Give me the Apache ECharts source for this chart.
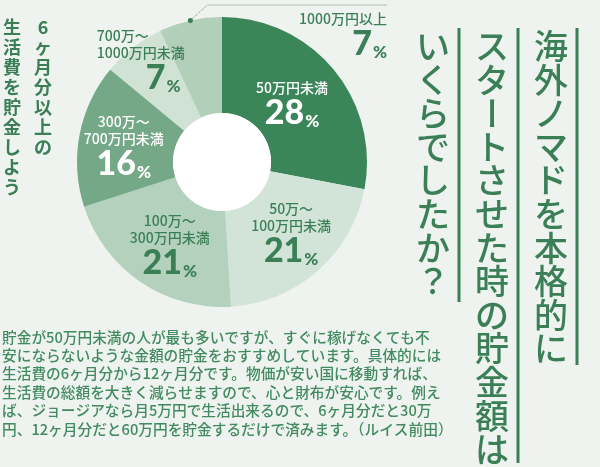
<!DOCTYPE html>
<html><head><meta charset="utf-8">
<script src="https://cdn.jsdelivr.net/npm/echarts@6/dist/echarts.min.js"></script>
<style>html,body{margin:0;padding:0;background:#eef3ef}#c{width:600px;height:467px}</style>
</head><body><div id="c"></div>
<script>
// ---- data ----
const categories = ['50万円未満','50万～100万円未満','100万～300万円未満','300万～700万円未満','700万～1000万円未満','1000万円以上'];
const labelLines = [['50万円未満'],['50万～','100万円未満'],['100万～','300万円未満'],['300万～','700万円未満'],['700万～','1000万円未満'],['1000万円以上']];
const values = [28,21,21,16,7,7];
const titleColumns = ['海外ノマドを本格的に','スタートさせた時の貯金額は','いくらでしたか？'];
const subColumns = ['6ヶ月分以上の','生活費を貯金しよう'];
const bodyLines = [
  '貯金が50万円未満の人が最も多いですが、すぐに稼げなくても不',
  '安にならないような金額の貯金をおすすめしています。具体的には',
  '生活費の6ヶ月分から12ヶ月分です。物価が安い国に移動すれば、',
  '生活費の総額を大きく減らせますので、心と財布が安心です。例え',
  'ば、ジョージアなら月5万円で生活出来るので、6ヶ月分だと30万',
  '円、12ヶ月分だと60万円を貯金するだけで済みます。（ルイス前田）'
];

// ---- styles ----
const GREEN = '#3b7f57';
const sliceColors = ['#3a8659','#d2e4d7','#b3d1bc','#74a887','#cfe2d4','#b2cfba'];
const labelColors = ['#ffffff',GREEN,GREEN,'#ffffff',GREEN,GREEN];
const labelShift = [[-7,6],[3,-3],[4,1],[0,4],[-64,-22]];
const JP = '"Noto Sans CJK JP", sans-serif';
const NUM = 'Lato, "DejaVu Sans Condensed", sans-serif';
const PCT = 'Lato, "DejaVu Sans", sans-serif';
const CX = 222, CY = 162, R0 = 49, R1 = 145;

const chart = echarts.init(document.getElementById('c'), null, {renderer:'canvas'});

const graphics = [];
// title columns (vertical)
const titleX = [551, 492, 433];
titleColumns.forEach((col, c) => {
  Array.from(col).forEach((ch, i) => {
    graphics.push({type:'text', x:titleX[c], y:46 + i*33.6, rotation: ch === 'ー' ? -Math.PI/2 : 0,
      style:{text:ch, fill:GREEN, fontSize:34, fontFamily:JP, fontWeight:500, align:'center', verticalAlign:'middle'}});
  });
});
[[577,28,365],[518,28,463],[459,28,302]].forEach(l => {
  graphics.push({type:'line', shape:{x1:l[0],y1:l[1],x2:l[0],y2:l[2]}, style:{stroke:GREEN, lineWidth:3}});
});
// left vertical subtitle
const subX = [43, 12];
subColumns.forEach((col, c) => {
  Array.from(col).forEach((ch, i) => {
    graphics.push({type:'text', x:subX[c], y:27 + i*20, style:{text:ch, fill:GREEN, fontSize:18, fontFamily:JP, fontWeight:'bold', align:'center', verticalAlign:'middle'}});
  });
});
// body text
bodyLines.forEach((t, i) => {
  graphics.push({type:'text', x:2, y:337 + i*18.4, style:{text:t, fill:'#428a5f', fontSize:14.7, fontFamily:JP, fontWeight:500, align:'left', verticalAlign:'middle'}});
});
// dot at leader start (mid-angle of last slice on outer edge)
const total = values.reduce((a,b)=>a+b,0);
const before = values.slice(0,5).reduce((a,b)=>a+b,0);
const midA = (before + values[5]/2) / total * Math.PI * 2;
graphics.push({type:'circle', shape:{cx: CX + R1*Math.sin(midA), cy: CY - R1*Math.cos(midA), r:2.5}, style:{fill:GREEN}, z:100});

chart.setOption({
  backgroundColor:'#eef3ef',
  animation:false,
  graphic: graphics,
  series:[{
    type:'pie', center:[CX,CY], radius:[R0,R1], startAngle:90, clockwise:true,
    avoidLabelOverlap:false, silent:true,
    itemStyle:{borderWidth:0},
    label:{show:true, position:'inside', fontFamily:JP,
      formatter: p => {
        const L = labelLines[p.dataIndex].map(s => '{n|' + s + '}').join('\n');
        const pt = p.dataIndex === 4 ? 'q' : 'p';
        return L + '\n{' + pt + '|' + p.value + '}{s|%}';
      },
      rich:{
        n:{fontSize:14, lineHeight:17, fontFamily:JP, fontWeight:500},
        p:{fontSize:34, lineHeight:34, fontFamily:NUM, fontWeight:900},
        q:{fontSize:34, lineHeight:34, fontFamily:NUM, fontWeight:900, padding:[0,0,0,49]},
        s:{fontSize:17, lineHeight:30, fontFamily:PCT, fontWeight:900, verticalAlign:'bottom', padding:[0,0,0,1]}
      }
    },
    labelLine:{show:false},
    labelLayout: params => {
      const i = params.dataIndex;
      if (i < 5) {
        const r = {dx: labelShift[i][0], dy: labelShift[i][1]};
        if (i === 4) r.align = 'left';
        return r;
      }
      const p0 = params.labelLinePoints ? params.labelLinePoints[0] : [190,20];
      return {x:387, y:10, align:'right', verticalAlign:'top',
        labelLinePoints:[p0, [p0[0]+17, 5], [387, 5]]};
    },
    data: values.map((v, i) => {
      const d = {value:v, name:categories[i], itemStyle:{color:sliceColors[i]}, label:{color:labelColors[i]}};
      if (i === 5) {
        d.label.position = 'outside';
        d.labelLine = {show:true, length:10, length2:10, lineStyle:{type:'dotted', color:'#6f8a78', width:1}};
      }
      return d;
    })
  },{
    type:'pie', center:[CX,CY], radius:[0,R0], silent:true, label:{show:false}, labelLine:{show:false},
    itemStyle:{color:'#ffffff'}, data:[{value:1, name:'hole'}]
  }]
});
</script></body></html>
